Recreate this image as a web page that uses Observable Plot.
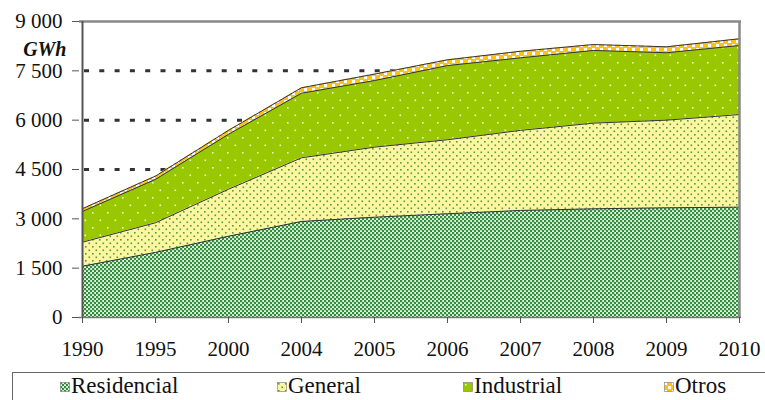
<!DOCTYPE html>
<html>
<head>
<meta charset="utf-8">
<script src="https://cdn.jsdelivr.net/npm/d3@7"></script>
<script src="https://cdn.jsdelivr.net/npm/@observablehq/plot@0.6"></script>
</head>
<body style="margin:0;background:#fff">
<div id="wrap" style="position:relative;width:765px;height:400px;overflow:hidden;font-family:'Liberation Serif';color:#111">
  <div id="chart"></div>
  <div id="legend" style="position:absolute;left:12px;top:372px;width:770px;height:40px;border:1px solid #666;box-sizing:border-box;font-family:'Liberation Serif';font-size:23px;line-height:26px"></div>
</div>
<script>
const years = ["1990","1995","2000","2004","2005","2006","2007","2008","2009","2010"];
const residencial = [1560,1980,2470,2920,3050,3155,3255,3305,3335,3355];
const general     = [730, 900,1430,1935,2130,2250,2435,2605,2665,2815];
const industrial  = [935,1320,1670,1965,2025,2255,2205,2210,2050,2100];
const otros       = [85, 100, 120, 165, 195, 175, 200, 180, 180, 205];
const seriesNames = ["Residencial","General","Industrial","Otros"];
const yTicks = [0,1500,3000,4500,6000,7500,9000];
const gridTicks = [1500,3000,4500,6000,7500];
const unitLabel = "GWh";

const seriesValues = [residencial, general, industrial, otros];
const fills = {Residencial:"url(#pRes)", General:"url(#pGen)", Industrial:"url(#pInd)", Otros:"url(#pOtr)"};
const data = years.flatMap((yr, i) => seriesNames.map((s, k) => ({year: yr, series: s, value: seriesValues[k][i]})));

const fmt = d => d3.format(",")(d).replace(/,/g, " ");

const patternDefs = `<defs>
  <pattern id="pRes" width="4" height="4" patternUnits="userSpaceOnUse">
    <rect width="4" height="4" fill="#e4f4de"/>
    <rect x="0" y="0" width="2.2" height="2.2" fill="#2f8f3e"/>
    <rect x="2" y="2" width="2.2" height="2.2" fill="#2f8f3e"/>
  </pattern>
  <pattern id="pGen" width="7" height="7" patternUnits="userSpaceOnUse">
    <rect width="7" height="7" fill="#fcf6a0"/>
    <rect x="1" y="1" width="1.6" height="1.6" fill="#5a9a3e"/>
    <rect x="4.5" y="4.5" width="1.6" height="1.6" fill="#5a9a3e"/>
  </pattern>
  <pattern id="pInd" width="15" height="15" patternUnits="userSpaceOnUse">
    <rect width="15" height="15" fill="#99c800"/>
    <rect x="2" y="2" width="1.6" height="1.6" fill="#eef8c8"/>
    <rect x="9.5" y="9.5" width="1.6" height="1.6" fill="#eef8c8"/>
  </pattern>
  <pattern id="pOtr" width="8" height="8" patternUnits="userSpaceOnUse">
    <rect width="8" height="8" fill="#ffc20e"/>
    <rect x="0" y="0" width="3" height="3" fill="#ffffff"/>
    <rect x="4" y="4" width="3" height="3" fill="#ffffff"/>
  </pattern>
</defs>`;

function draw() {
  const chart = Plot.plot({
    width: 765, height: 370,
    marginLeft: 79, marginRight: 24, marginTop: 21, marginBottom: 53,
    style: {fontFamily: "Liberation Serif", fontSize: "21px", color: "#111", background: "transparent"},
    x: {type: "point", domain: years, padding: 0, label: null},
    y: {domain: [0, 9000], label: null},
    color: {type: "identity"},
    marks: [
      Plot.ruleY(gridTicks, {stroke: "#333", strokeWidth: 3, strokeDasharray: "5,10.3", strokeDashoffset: -5}),
      Plot.areaY(data, {x: "year", y: "value", z: "series", fill: d => fills[d.series]}),
      Plot.lineY(data, Plot.stackY2({x: "year", y: "value", z: "series", stroke: "#333", strokeWidth: 1})),
      Plot.ruleY([9000], {stroke: "#888", strokeWidth: 2.5}),
      Plot.ruleX([years[years.length - 1]], {y1: 0, y2: 9000, stroke: "#888", strokeWidth: 2.5}),
      Plot.ruleX([years[0]], {y1: 0, y2: 9000, stroke: "#555", strokeWidth: 2}),
      Plot.ruleY([0], {stroke: "#777", strokeWidth: 1.5}),
      Plot.axisY({ticks: yTicks, tickSize: 7, tickPadding: 10, tickFormat: fmt, stroke: "#555", fontSize: 21, fontFamily: "Liberation Serif"}),
      Plot.axisX({tickSize: 6, tickPadding: 18, stroke: "#555", fontSize: 21, fontFamily: "Liberation Serif"}),
      Plot.text([unitLabel], {frameAnchor: "top-left", dx: -13, dy: 20, textAnchor: "end", fontStyle: "italic", fontWeight: "bold", fontSize: 20, fontFamily: "Liberation Serif"})
    ]
  });
  chart.insertAdjacentHTML("afterbegin", patternDefs);
  const holder = document.getElementById("chart");
  holder.replaceChildren(chart);

  const legendPos = [47, 264, 450, 651];
  const legend = document.getElementById("legend");
  legend.replaceChildren();
  seriesNames.forEach((s, k) => {
    const it = document.createElement("div");
    it.style.cssText = `position:absolute;top:0px;left:${legendPos[k]}px;white-space:nowrap;font-family:"Liberation Serif";font-size:23px`;
    it.innerHTML = `<svg width="10" height="10" style="position:absolute;left:0;top:9px"><rect x="0.5" y="0.5" width="9" height="9" fill="${fills[s]}" stroke="#777" stroke-width="0.6"/></svg><span style="position:absolute;left:11px;top:0">${s}</span>`;
    legend.appendChild(it);
  });
}

draw();
if (document.fonts && document.fonts.load) {
  document.fonts.load("21px 'Liberation Serif'").then(draw).catch(() => {});
  document.fonts.ready.then(draw).catch(() => {});
}
</script>
</body>
</html>
